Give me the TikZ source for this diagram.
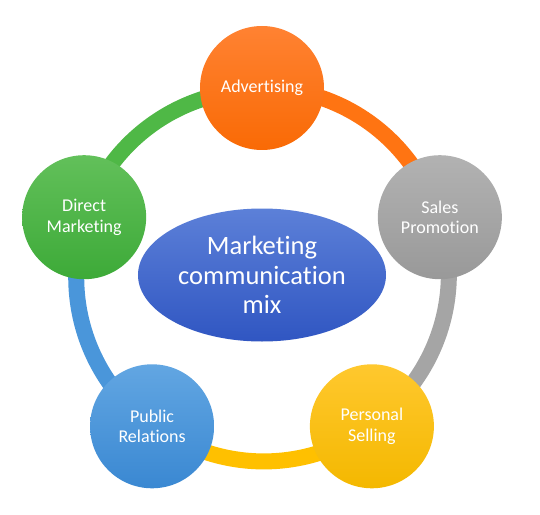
\documentclass[tikz,border=0pt]{standalone}
\usepackage{fontspec}
\setmainfont[Ligatures=NoCommon]{Carlito}
\usetikzlibrary{shapes.geometric,backgrounds}

\definecolor{advtop}{HTML}{FF8232}
\definecolor{advbot}{HTML}{F96A05}
\definecolor{saltop}{HTML}{B2B2B2}
\definecolor{salbot}{HTML}{999999}
\definecolor{pertop}{HTML}{FFC82E}
\definecolor{perbot}{HTML}{F4B800}
\definecolor{pubtop}{HTML}{62A6E2}
\definecolor{pubbot}{HTML}{3A88D2}
\definecolor{dirtop}{HTML}{62C05A}
\definecolor{dirbot}{HTML}{3DAA38}
\definecolor{mixtop}{HTML}{5C80D8}
\definecolor{mixbot}{HTML}{3056C2}
\definecolor{ringorange}{HTML}{FF7412}
\definecolor{ringgray}{HTML}{A5A5A5}
\definecolor{ringyellow}{HTML}{FFC000}
\definecolor{ringblue}{HTML}{4A96DA}
\definecolor{ringgreen}{HTML}{4FB846}

\begin{document}
\begin{tikzpicture}
  [x=1pt, y=1pt,
   item/.style={circle, minimum size=124pt, inner sep=0pt, text=white,
     align=center, font=\fontsize{18}{20.5}\selectfont},
   ring/.style={line width=16pt}]
  \useasboundingbox (-262, -239) rectangle (278, 275);

  \node[item, top color=advtop, bottom color=advbot] (adv) at (90:187) {Advertising};
  \node[item, top color=saltop, bottom color=salbot] (sales) at (18:187) {Sales\\Promotion};
  \node[item, top color=pertop, bottom color=perbot] (pers) at (-54:187) {Personal\\Selling};
  \node[item, top color=pubtop, bottom color=pubbot] (pub) at (-126:187) {Public\\Relations};
  \node[item, top color=dirtop, bottom color=dirbot] (direct) at (162:187) {Direct\\Marketing};

  \node[ellipse, minimum width=248pt, minimum height=133pt, inner sep=0pt,
    top color=mixtop, bottom color=mixbot, text=white, align=center,
    font=\fontsize{26.5}{29.5}\selectfont] (mix) at (0, 0) {Marketing\\communication\\mix};

  \begin{scope}[on background layer]
    \foreach \from/\a/\col in {adv/90/ringorange, sales/18/ringgray, pers/-54/ringyellow,
      pub/-126/ringblue, direct/162/ringgreen}
    \draw[ring, \col] (\from.center) arc[start angle=\a, end angle=\a-72, radius=184pt];
  \end{scope}
\end{tikzpicture}
\end{document}
